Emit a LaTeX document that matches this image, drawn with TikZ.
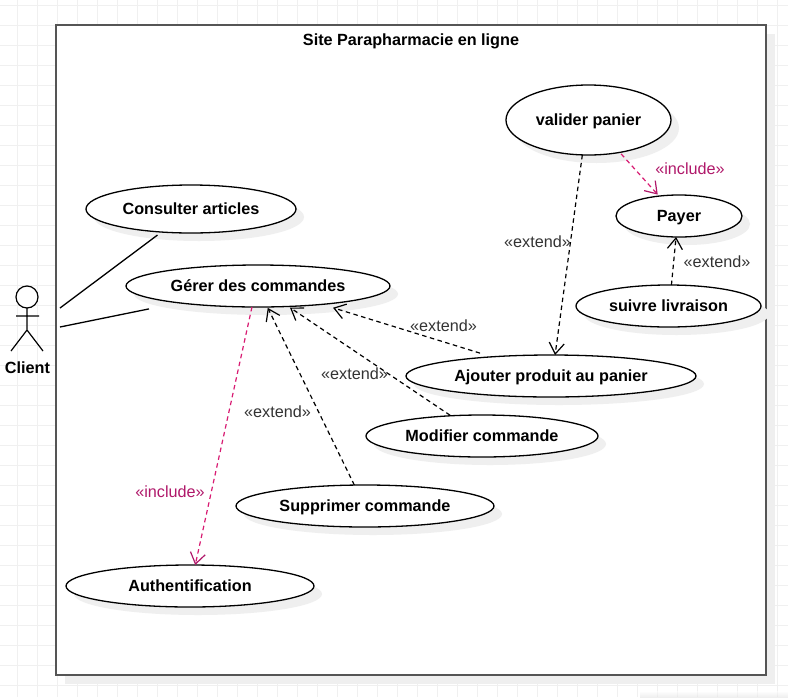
\documentclass[tikz,border=0pt]{standalone}
\usepackage{fontspec}
\setmainfont{Liberation Sans}
\usetikzlibrary{shapes.geometric,shadows,arrows.meta}
\definecolor{gridc}{HTML}{F0F0F0}
\definecolor{boxc}{HTML}{555555}
\definecolor{pinkline}{HTML}{D81B72}
\definecolor{pinktext}{HTML}{B0186A}
\definecolor{labelc}{HTML}{333333}
\definecolor{shadowc}{HTML}{EFEFEF}
\tikzset{
  usecase/.style={ellipse,draw=black,fill=white,line width=1.3pt,inner sep=0pt,outer sep=0pt,
    minimum width=2*#1,text height=14pt,text depth=4pt,font=\fontsize{16.2}{19}\selectfont\bfseries,
    drop shadow={shadow xshift=8pt,shadow yshift=-8pt,fill=shadowc,opacity=1}},
  flat/.style={line width=1.3pt,draw=black},
  ext/.style={line width=1.2pt,draw=black,dash pattern=on 4.5pt off 3.5pt,
    -{Straight Barb[length=11pt,width=15pt,line width=1.2pt]}},
  inc/.style={ext,draw=pinkline,-{Straight Barb[length=11pt,width=15pt,line width=1.2pt,color=pinktext]}},
  extlabel/.style={font=\fontsize{16.2}{19}\selectfont,text=labelc,inner sep=0pt},
  inclabel/.style={font=\fontsize{16.2}{19}\selectfont,text=pinktext,inner sep=0pt},
  titlelabel/.style={font=\fontsize{16.2}{19}\selectfont\bfseries,inner sep=0pt},
  container/.style={draw=boxc,line width=2pt,fill=white},
}
\begin{document}
\begin{tikzpicture}[x=1pt,y=-1pt]
\useasboundingbox (0,0) rectangle (788,697);
\fill[white] (0,0) rectangle (788,697);
\clip (0,0) rectangle (788,697);
% grid
\foreach \gx in {17,37,...,777} \draw[gridc,line width=1pt] (\gx,0) -- (\gx,697);
\foreach \gy in {5,25,...,685} \draw[gridc,line width=1pt] (0,\gy) -- (788,\gy);
\shade[top color=white,bottom color=black!12,opacity=.5] (640,691) rectangle (788,697);
% system box
\fill[shadowc] (65,34) rectangle (775,684);
\draw[container] (56,25) rectangle (766,675);
\node[titlelabel] (title) at (411,41) {Site Parapharmacie en ligne};
% use cases
\node[usecase=105pt,minimum height=48pt] (consulter) at (191,209) {Consulter articles};
\node[usecase=132pt,minimum height=42pt] (gerer) at (258,286) {Gérer des commandes};
\node[usecase=82.5pt,minimum height=70pt] (valider) at (588.5,120) {valider panier};
\node[usecase=63pt,minimum height=42pt] (payer) at (679,216) {Payer};
\node[usecase=92.5pt,minimum height=42pt] (suivre) at (668.5,306) {suivre livraison};
\node[usecase=145pt,minimum height=42pt] (ajouter) at (551,376) {Ajouter produit au panier};
\node[usecase=116pt,minimum height=42pt] (modifier) at (482,436) {Modifier commande};
\node[usecase=129pt,minimum height=42pt] (supprimer) at (365,506) {Supprimer commande};
\node[usecase=124pt,minimum height=42pt] (auth) at (190,586) {Authentification};
% actor
\coordinate (head) at (27,297);
\coordinate (neck) at (27,308);
\coordinate (hip) at (27,330);
\coordinate (armL) at (16,316);
\coordinate (armR) at (39,316);
\coordinate (legL) at (11,351);
\coordinate (legR) at (43,351);
\draw[flat,line width=1.2pt,fill=white] (head) circle[radius=11];
\draw[flat,line width=1.2pt] (neck) -- (hip) (armL) -- (armR) (hip) -- (legL) (hip) -- (legR);
\node[titlelabel] (client) at (27.5,368) {Client};
\coordinate (actorA) at (60,308);
\coordinate (actorB) at (60,327);
% associations
\draw[flat,shorten >=5pt] (actorA) -- (consulter.-142.5);
\draw[flat,shorten >=30.5pt] (actorB) -- (gerer.-168.8);
% dependencies
\draw[ext,shorten <=12.5pt,shorten >=11.5pt] (ajouter.162.5) -- (gerer.-16.8);
\draw[ext,shorten <=1pt,shorten >=2pt] (modifier.147.2) -- (gerer.-34.5);
\draw[ext,shorten >=1pt] (supprimer.117.6) -- (gerer.-66.8);
\draw[inc] (gerer.-106) -- (auth.76.6);
\draw[ext] (valider.-100.5) -- (ajouter.79);
\draw[inc,shorten <=2pt,shorten >=2pt] (valider.-46.3) -- (payer.135);
\draw[ext] (suivre.82) -- (payer.-98);
% labels
\node[extlabel] (l1) at (443.5,326) {«extend»};
\node[extlabel] (l2) at (354.5,374) {«extend»};
\node[extlabel] (l3) at (277.5,412) {«extend»};
\node[extlabel] (l4) at (537.5,242) {«extend»};
\node[extlabel] (l5) at (717,262) {«extend»};
\node[inclabel] (l6) at (170,492) {«include»};
\node[inclabel] (l7) at (690,169) {«include»};
\end{tikzpicture}
\end{document}
